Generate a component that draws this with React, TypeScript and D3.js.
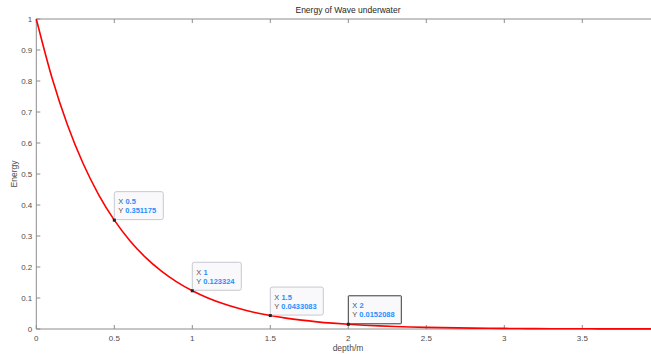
import { useEffect, useRef } from 'react';
import * as d3 from 'd3';

// depth samples (m) and energy
const depth = [0, 0.1, 0.2, 0.3, 0.4, 0.5, 0.6, 0.7, 0.8, 0.9, 1.0, 1.1, 1.2, 1.3, 1.4, 1.5, 1.6, 1.7, 1.8, 1.9, 2.0,
    2.1, 2.2, 2.3, 2.4, 2.5, 2.6, 2.7, 2.8, 2.9, 3.0, 3.1, 3.2, 3.3, 3.4, 3.5, 3.6, 3.7, 3.8, 3.9, 4.0];
const energy = [1, 0.8112, 0.658, 0.5338, 0.433, 0.351175, 0.2849, 0.2311, 0.1875, 0.1521, 0.123324, 0.1001, 0.0812,
    0.0658, 0.0534, 0.0433083, 0.0351, 0.0285, 0.0231, 0.0188, 0.0152088, 0.0123, 0.01, 0.0081, 0.0066, 0.0053,
    0.0043, 0.0035, 0.0028, 0.0023, 0.0019, 0.0015, 0.0012, 0.001, 0.0008, 0.0007, 0.0005, 0.0004, 0.0004, 0.0003, 0.0002];

const tipX = [0.5, 1, 1.5, 2];
const tipY = [0.351175, 0.123324, 0.0433083, 0.0152088];
const tipLabelY = ["0.351175", "0.123324", "0.0433083", "0.0152088"];

const xTicks = [0, 0.5, 1, 1.5, 2, 2.5, 3, 3.5];
const yTicks = [0, 0.1, 0.2, 0.3, 0.4, 0.5, 0.6, 0.7, 0.8, 0.9, 1];

const width = 651;
const height = 354;
const font = "'Liberation Sans', Arial, sans-serif";

export default function App() {
    const svgRef = useRef<SVGSVGElement>(null);

    useEffect(() => {
        document.body.style.margin = "0";
        if (!svgRef.current) return;
        const svg = d3.select(svgRef.current);
        svg.selectAll("*").remove();

        const left = 36.3, right = 660.3, top = 19, bottom = 329;
        const x = d3.scaleLinear().domain([0, 4]).range([left, right]);
        const y = d3.scaleLinear().domain([0, 1]).range([bottom, top]);
        const axisColor = "#8c8c8c";
        const textColor = "#4d4d4d";

        // axis box lines (left, bottom, top)
        svg.append("line").attr("x1", left).attr("x2", left).attr("y1", top).attr("y2", bottom)
            .attr("stroke", axisColor).attr("stroke-width", 1);
        svg.append("line").attr("x1", left).attr("x2", right).attr("y1", bottom).attr("y2", bottom)
            .attr("stroke", axisColor).attr("stroke-width", 1);
        svg.append("line").attr("x1", left).attr("x2", right).attr("y1", top).attr("y2", top)
            .attr("stroke", axisColor).attr("stroke-width", 1);

        // x ticks (inward, bottom and top)
        const xt = svg.append("g");
        xTicks.forEach(t => {
            xt.append("line").attr("x1", x(t)).attr("x2", x(t)).attr("y1", bottom).attr("y2", bottom - 4)
                .attr("stroke", axisColor);
            xt.append("line").attr("x1", x(t)).attr("x2", x(t)).attr("y1", top).attr("y2", top + 4)
                .attr("stroke", axisColor);
            xt.append("text").attr("x", x(t)).attr("y", bottom + 12).attr("text-anchor", "middle")
                .style("font-family", font).style("font-size", "8px").style("fill", textColor)
                .text(String(t));
        });

        // y ticks
        const yt = svg.append("g");
        yTicks.forEach(t => {
            yt.append("line").attr("x1", left).attr("x2", left + 4).attr("y1", y(t)).attr("y2", y(t))
                .attr("stroke", axisColor);
            yt.append("text").attr("x", left - 4).attr("y", y(t) + 3).attr("text-anchor", "end")
                .style("font-family", font).style("font-size", "8px").style("fill", textColor)
                .text(String(t));
        });

        // labels
        svg.append("text").attr("x", 348).attr("y", 13).attr("text-anchor", "middle")
            .style("font-family", font).style("font-size", "8.5px").style("fill", "#262626")
            .text("Energy of Wave underwater");
        svg.append("text").attr("x", 348).attr("y", 351).attr("text-anchor", "middle")
            .style("font-family", font).style("font-size", "8.5px").style("fill", textColor)
            .text("depth/m");
        svg.append("text").attr("transform", `translate(17,174) rotate(-90)`).attr("text-anchor", "middle")
            .style("font-family", font).style("font-size", "8.5px").style("fill", textColor)
            .text("Energy");

        // curve
        const pts = depth.map((d, i) => [d, energy[i]] as [number, number]);
        const line = d3.line<[number, number]>()
            .x(d => x(d[0]))
            .y(d => y(d[1]))
            .curve(d3.curveMonotoneX);
        svg.append("path").datum(pts).attr("d", line).attr("fill", "none")
            .attr("stroke", "#ff0000").attr("stroke-width", 1.6);

        // data tips
        tipX.forEach((tx, i) => {
            const px = x(tx), py = y(tipY[i]);
            const selected = i === tipX.length - 1;
            const g = svg.append("g");
            const boxW = i === 0 || i === 1 ? 49 : 53;
            g.append("rect").attr("x", px).attr("y", py - 28.5).attr("width", boxW).attr("height", 28)
                .attr("rx", selected ? 0.5 : 2).attr("fill", "#f9f9fc")
                .attr("stroke", selected ? "#3a3a3a" : "#c8c8d0").attr("stroke-width", 1);
            const t1 = g.append("text").attr("x", px + 4).attr("y", py - 16)
                .style("font-family", font).style("font-size", "7.5px");
            t1.append("tspan").style("fill", "#555").text("X ");
            t1.append("tspan").style("fill", "#1e90ff").style("font-weight", "bold").text(String(tx));
            const t2 = g.append("text").attr("x", px + 4).attr("y", py - 7)
                .style("font-family", font).style("font-size", "7.5px");
            t2.append("tspan").style("fill", "#555").text("Y ");
            t2.append("tspan").style("fill", "#1e90ff").style("font-weight", "bold").text(tipLabelY[i]);
            g.append("rect").attr("x", px - 1.5).attr("y", py - 1.5).attr("width", 3).attr("height", 3)
                .attr("fill", "#222");
        });
    }, []);

    return (
        <svg ref={svgRef} width={width} height={height}
            style={{ display: "block", background: "#ffffff", overflow: "hidden" }} />
    );
}
